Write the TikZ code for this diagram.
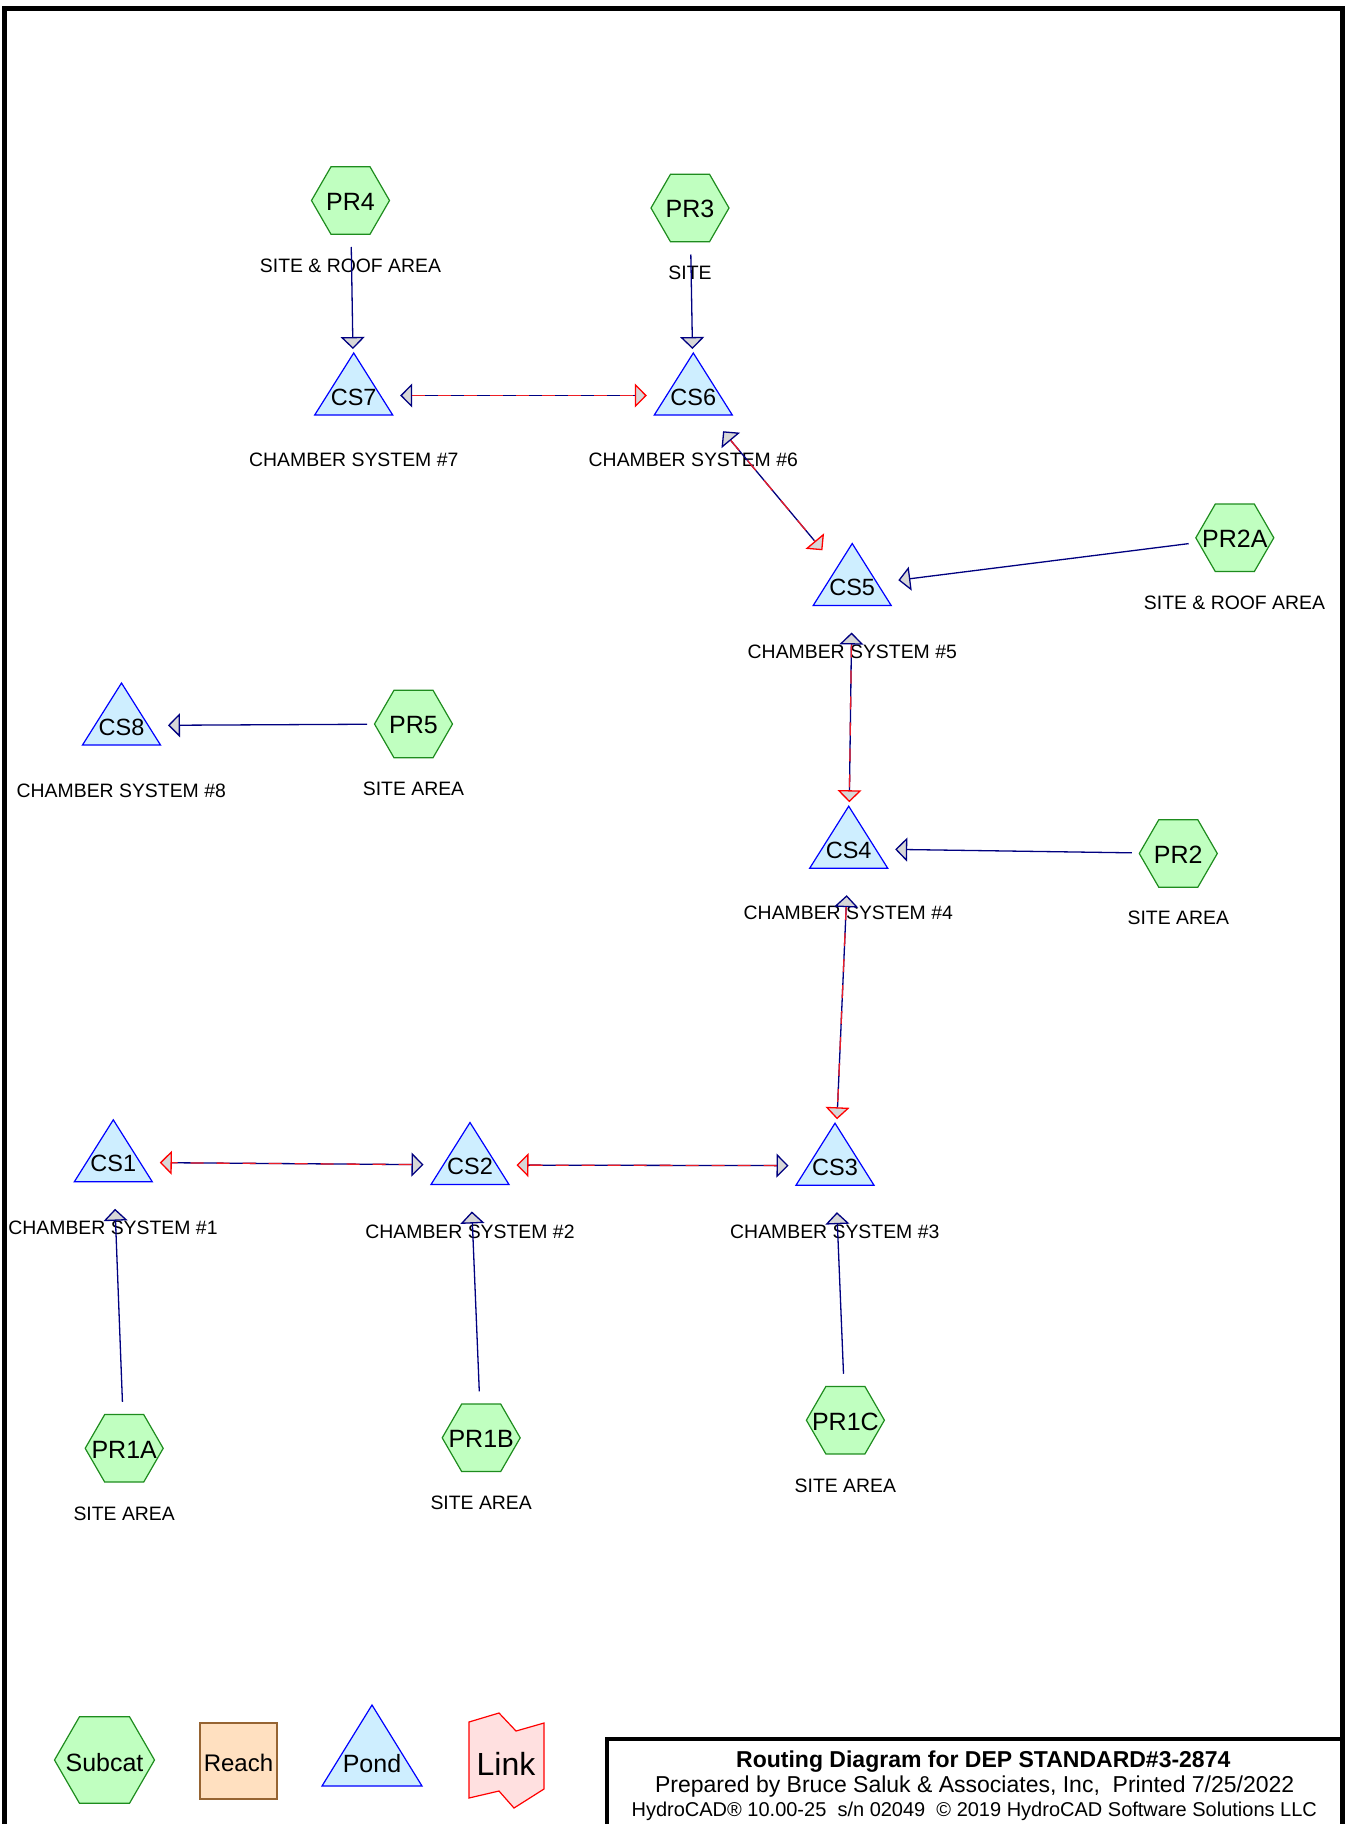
\documentclass[tikz,border=0pt]{standalone}
\usepackage{fontspec}
\setmainfont{Liberation Sans}
\usetikzlibrary{arrows.meta,shapes.geometric}
\definecolor{hexfill}{RGB}{192,255,192}
\definecolor{hexdraw}{RGB}{30,140,30}
\definecolor{pondfill}{RGB}{206,238,255}
\definecolor{ponddraw}{RGB}{0,0,255}
\definecolor{linknavy}{RGB}{0,0,128}
\definecolor{tipfill}{RGB}{215,215,215}
\definecolor{reachfill}{RGB}{255,224,192}
\definecolor{reachdraw}{RGB}{150,100,50}
\definecolor{linkfill}{RGB}{255,224,224}
\definecolor{dashred}{RGB}{235,30,40}
\newcommand{\subcatnode}[4]{%
  \node[hexshape] (#1) at (#2,#3) {};
  \node[hextext] (#1-t) at ([yshift=-1.2pt]#1.center) {#4};}
\newcommand{\pondnode}[4]{%
  \filldraw[pondshape] (#2,#3) ++(0,-42.5) -- ++(39,62) -- ++(-78,0) -- cycle;
  \coordinate (#1) at (#2,#3);
  \node[pondtext] (#1-t) at ([yshift=-1.5pt]#1) {#4};}
\newcommand{\bilink}[2]{%
  \draw[biflow] (#1) -- (#2);
  \draw[dashover] (#1) -- (#2);}
\begin{document}
\begin{tikzpicture}[x=1pt,y=-1pt,
  hexshape/.style={regular polygon, regular polygon sides=6, minimum size=78pt,
    inner sep=0pt, draw=hexdraw, fill=hexfill, line width=1.2pt},
  hextext/.style={font=\fontsize{25}{30}\selectfont, inner sep=0pt},
  pondshape/.style={draw=ponddraw, fill=pondfill, line width=1.2pt, line join=miter},
  pondtext/.style={font=\fontsize{23.5}{28}\selectfont, inner sep=0pt},
  desc/.style={font=\fontsize{19.4}{23}\selectfont, inner sep=0pt},
  flow/.style={draw=linknavy, line width=1.3pt, shorten <=46.5pt, shorten >=46.5pt,
    -{Triangle[length=12pt,width=24pt,color=linknavy,fill=tipfill]}},
  biflow/.style={draw=linknavy, line width=1.3pt, shorten <=46.5pt, shorten >=46.5pt,
    {Triangle[length=12pt,width=24pt,color=linknavy,fill=tipfill]}-{Triangle[length=12pt,width=24pt,color=red,fill=tipfill]}},
  dashover/.style={draw=dashred, line width=1.3pt, dash pattern=on 13pt off 13pt,
    shorten <=58.5pt, shorten >=58.5pt},
  titletext/.style={inner sep=0pt, anchor=base}
]
\useasboundingbox (0,0) rectangle (1345,1824);
\fill[white] (0,0) rectangle (1345,1824);
% frame
\draw[line width=5pt] (4.5,1824) -- (4.5,8) -- (1342.5,8) -- (1342.5,1824);
% subcatchments
\subcatnode{PR4}{350.5}{200.5}{PR4}
\subcatnode{PR3}{690}{208}{PR3}
\subcatnode{PR2A}{1234.8}{537.8}{PR2A}
\subcatnode{PR5}{413.5}{724}{PR5}
\subcatnode{PR2}{1178.3}{853.5}{PR2}
\subcatnode{PR1A}{124.2}{1448.3}{PR1A}
\subcatnode{PR1B}{481.2}{1437.8}{PR1B}
\subcatnode{PR1C}{845.4}{1420.2}{PR1C}
% ponds
\pondnode{CS7}{353.7}{395.5}{CS7}
\pondnode{CS6}{693.3}{395.5}{CS6}
\pondnode{CS5}{852.2}{586}{CS5}
\pondnode{CS8}{121.5}{725.5}{CS8}
\pondnode{CS4}{848.7}{848.7}{CS4}
\pondnode{CS1}{113.3}{1162.3}{CS1}
\pondnode{CS2}{470}{1165}{CS2}
\pondnode{CS3}{835}{1165.7}{CS3}
% descriptions
\node[desc] (PR4-l) at (350.5,266) {SITE \& ROOF AREA};
\node[desc] (PR3-l) at (690,273.3) {SITE};
\node[desc] (PR2A-l) at (1234.5,603.3) {SITE \& ROOF AREA};
\node[desc] (PR5-l) at (413.5,789.3) {SITE AREA};
\node[desc] (PR2-l) at (1178.3,918.3) {SITE AREA};
\node[desc] (PR1A-l) at (124.2,1514) {SITE AREA};
\node[desc] (PR1B-l) at (481.2,1503.3) {SITE AREA};
\node[desc] (PR1C-l) at (845.4,1485.7) {SITE AREA};
\node[desc] (CS7-l) at (353.8,460) {CHAMBER SYSTEM \#7};
\node[desc] (CS6-l) at (693.3,460) {CHAMBER SYSTEM \#6};
\node[desc] (CS5-l) at (852.3,651.7) {CHAMBER SYSTEM \#5};
\node[desc] (CS8-l) at (121.3,791) {CHAMBER SYSTEM \#8};
\node[desc] (CS4-l) at (848.3,913.3) {CHAMBER SYSTEM \#4};
\node[desc] (CS1-l) at (113,1227.7) {CHAMBER SYSTEM \#1};
\node[desc] (CS2-l) at (470,1231.7) {CHAMBER SYSTEM \#2};
\node[desc] (CS3-l) at (834.8,1231.7) {CHAMBER SYSTEM \#3};
% connectors
\draw[flow] (PR4.center) -- (CS7);
\draw[flow] (PR3.center) -- (CS6);
\draw[flow] (PR2A.center) -- (CS5);
\draw[flow] (PR5.center) -- (CS8);
\draw[flow] (PR2.center) -- (CS4);
\draw[flow] (PR1A.center) -- (CS1);
\draw[flow] (PR1B.center) -- (CS2);
\draw[flow] (PR1C.center) -- (CS3);
\bilink{CS7}{CS6}
\bilink{CS6}{CS5}
\bilink{CS5}{CS4}
\bilink{CS4}{CS3}
\bilink{CS3}{CS2}
\bilink{CS2}{CS1}
% legend
\node[regular polygon, regular polygon sides=6, minimum size=100pt, inner sep=0pt,
  draw=hexdraw, fill=hexfill, line width=1.2pt] (lg-sub) at (104.5,1760) {};
\node[font=\fontsize{25}{30}\selectfont, inner sep=0pt] (lg-sub-t) at (104.5,1762.5) {Subcat};
\filldraw[draw=reachdraw, fill=reachfill, line width=1.5pt] (200,1723) rectangle (277,1799);
\node[font=\fontsize{24}{29}\selectfont, inner sep=0pt] (lg-reach) at (238.5,1762.5) {Reach};
\filldraw[pondshape] (372,1705) -- (422,1786) -- (322,1786) -- cycle;
\node[font=\fontsize{25}{30}\selectfont, inner sep=0pt] (lg-pond) at (372,1764) {Pond};
\filldraw[draw=red, fill=linkfill, line width=1.2pt] (469,1722) -- (499,1713) -- (516,1731) -- (544,1723)
  -- (544,1789) -- (514,1808) -- (499,1791) -- (469,1798) -- cycle;
\node[font=\fontsize{32}{38}\selectfont, inner sep=0pt] (lg-link) at (506,1764) {Link};
% title box
\draw[line width=4.5pt] (607,1824) -- (607,1739) -- (1342.5,1739);
\node[titletext, font=\bfseries\fontsize{23}{28}\selectfont] (t1) at (983.3,1767.5) {Routing Diagram for DEP STANDARD\#3-2874};
\node[titletext, font=\fontsize{23}{28}\selectfont] (t2) at (974.7,1792) {Prepared by Bruce Saluk \& Associates, Inc,\ \ Printed 7/25/2022};
\node[titletext, font=\fontsize{20}{24}\selectfont] (t3) at (974.3,1816.3) {HydroCAD® 10.00-25\ \ s/n 02049\ \ © 2019 HydroCAD Software Solutions LLC};
\end{tikzpicture}
\end{document}
